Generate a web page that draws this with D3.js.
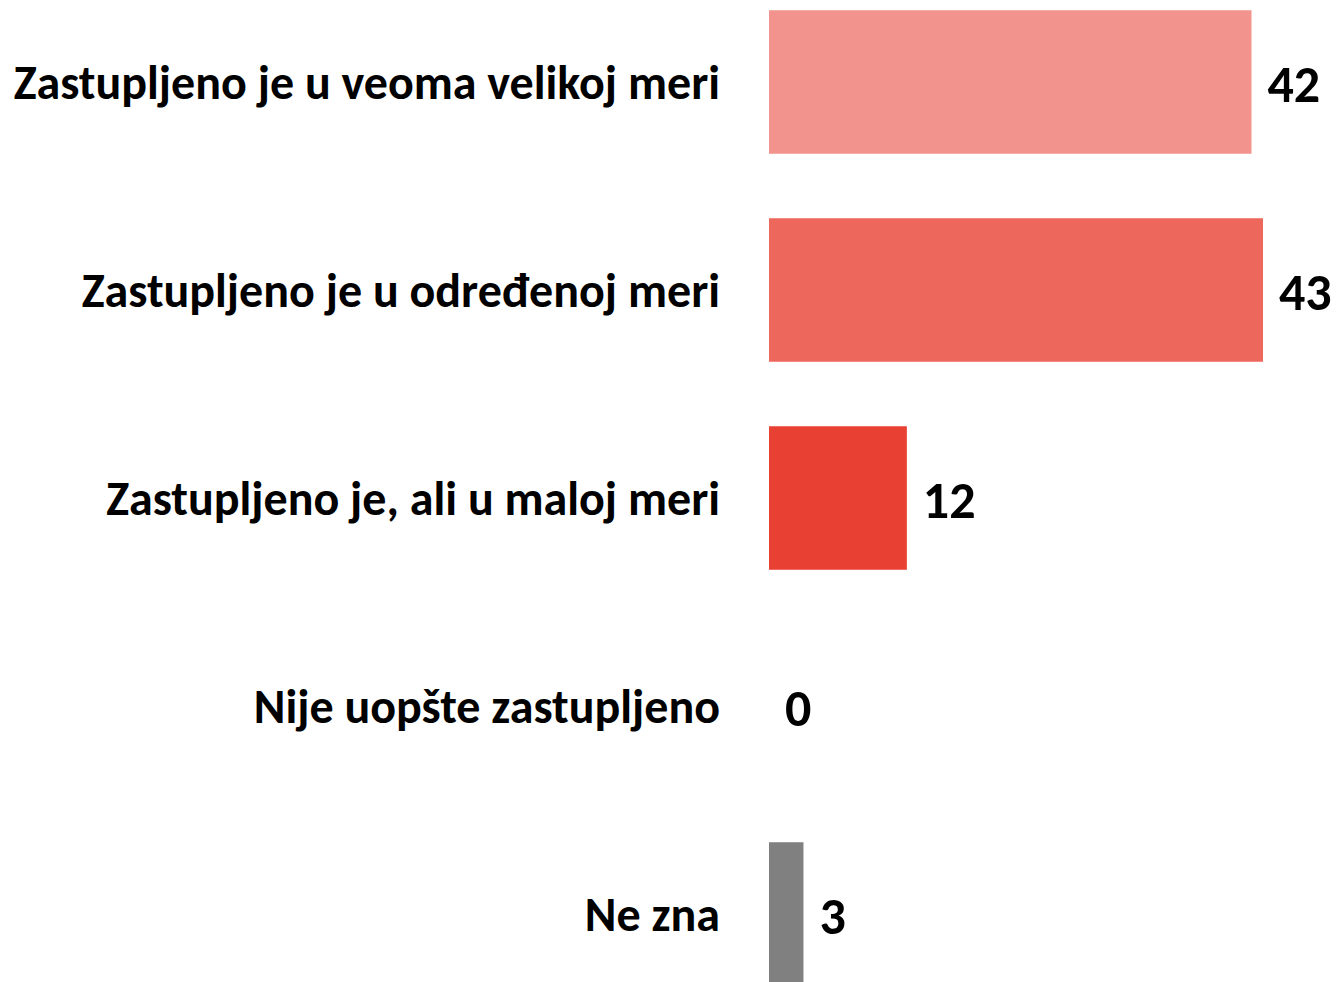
<!DOCTYPE html>
<html>
<head>
<meta charset="utf-8">
<script src="https://cdn.jsdelivr.net/npm/d3@7"></script>
<style>
  body { margin: 0; background: #fff; }
  svg text { font-family: Carlito, "Open Sans", sans-serif; font-weight: 700; fill: #000; }
</style>
</head>
<body>
<svg id="chart" width="1338" height="982"></svg>
<script>
const categories = [
  "Zastupljeno je u veoma velikoj meri",
  "Zastupljeno je u određenoj meri",
  "Zastupljeno je, ali u maloj meri",
  "Nije uopšte zastupljeno",
  "Ne zna"
]
const values = [42, 43, 12, 0, 3]
const colors = ["#f2948d", "#ee675c", "#e84133", "#e84133", "#808080"]

const svg = d3.select("#chart")
const x0 = 769

const x = d3.scaleLinear().domain([0, 43]).range([x0, 1263])
const y = d3.scaleBand().domain(categories).range([-22, 1018]).paddingInner(0.31).paddingOuter(0.155)

svg.selectAll(".bar")
  .data(values)
  .enter().append("rect")
  .attr("class", "bar")
  .attr("x", x(0))
  .attr("y", (d, i) => y(categories[i]))
  .attr("width", d => x(d) - x(0))
  .attr("height", y.bandwidth())
  .attr("fill", (d, i) => colors[i])

// category labels
svg.selectAll(".cat")
  .data(categories)
  .enter().append("text")
  .attr("class", "cat")
  .attr("x", 720)
  .attr("y", d => y(d) + y.bandwidth() / 2)
  .attr("dy", ".35em")
  .attr("text-anchor", "end")
  .style("font-size", "48px")
  .text(d => d)

// value labels
svg.selectAll(".val")
  .data(values)
  .enter().append("text")
  .attr("class", "val")
  .attr("x", d => x(d) + 16)
  .attr("y", (d, i) => y(categories[i]) + y.bandwidth() / 2)
  .attr("dy", ".38em")
  .style("font-size", "52px")
  .text(d => d)
</script>
</body>
</html>
